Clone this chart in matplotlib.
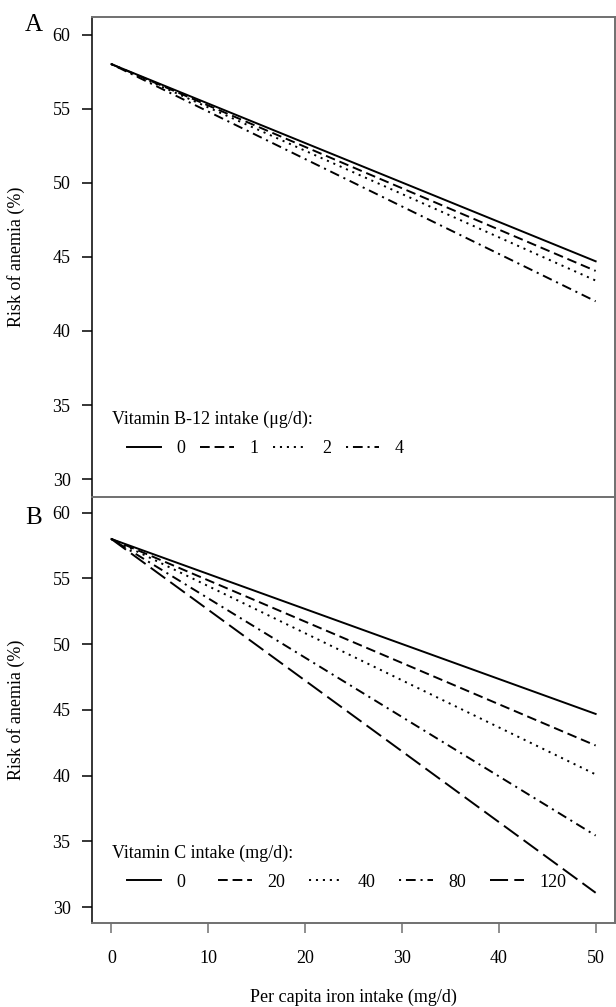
import matplotlib.pyplot as plt

plt.rcParams['font.family'] = ['Liberation Serif', 'DejaVu Serif']
plt.rcParams['lines.scale_dashes'] = False

# per capita iron intake (mg/d)
iron_intake = [0, 50]

# panel A: vitamin B-12 intake (ug/d)
b12_labels = ['0', '1', '2', '4']
b12_start = [58.0, 58.0, 58.0, 58.0]
b12_end = [44.7, 44.05, 43.4, 42.0]

# panel B: vitamin C intake (mg/d)
vitc_labels = ['0', '20', '40', '80', '120']
vitc_start = [58.0, 58.0, 58.0, 58.0, 58.0]
vitc_end = [44.7, 42.3, 40.1, 35.45, 31.1]

styles = ['-', (0, (7, 3.5)), (0, (1.5, 3.5)), (0, (1.5, 3.5, 7, 3.5)), (0, (13, 4.5))]
gray = '#707070'
fs = 13


def style_axes(ax):
    ax.set_xlim(-2, 52)
    ax.set_ylim(28.8, 61.2)
    ax.set_yticks([30, 35, 40, 45, 50, 55, 60])
    ax.set_xticks([0, 10, 20, 30, 40, 50])
    for s in ['top', 'right', 'bottom']:
        ax.spines[s].set_color(gray)
        ax.spines[s].set_linewidth(1.4)
    ax.spines['left'].set_color('black')
    ax.spines['left'].set_linewidth(1.1)
    ax.tick_params(axis='y', length=7.5, width=1.1, pad=8, labelsize=fs)
    ax.tick_params(axis='x', length=7.5, width=1.1, color=gray, pad=12, labelsize=fs)
    ax.set_ylabel('Risk of anemia (%)', fontsize=fs)
    ax.yaxis.set_label_coords(-0.128, 0.5)


def add_key(ax, lines, labels, title, y_title, y_keys, step):
    ax.text(0.0382, y_title, title, transform=ax.transAxes, ha='left', va='center', fontsize=fs)
    for i, (ln, lab) in enumerate(zip(lines, labels)):
        leg = ax.legend([ln], [lab], loc='center left', bbox_to_anchor=(0.0668 + i * step, y_keys),
                        frameon=False, borderpad=0, borderaxespad=0, handlelength=1.88,
                        handletextpad=0.85, fontsize=fs)
        ax.add_artist(leg)
    # every key is already an added artist, avoid drawing the last one twice
    ax.legend_ = None


fig = plt.figure(figsize=(6.16, 10.07), dpi=100)
ax_a = fig.add_axes([0.1494, 0.5065, 0.849, 0.4769])
ax_b = fig.add_axes([0.1494, 0.0834, 0.849, 0.4231])

lines_a = []
for i, lab in enumerate(b12_labels):
    ln, = ax_a.plot(iron_intake, [b12_start[i], b12_end[i]], color='black', lw=1.4, linestyle=styles[i])
    lines_a.append(ln)

lines_b = []
for i, lab in enumerate(vitc_labels):
    ln, = ax_b.plot(iron_intake, [vitc_start[i], vitc_end[i]], color='black', lw=1.4, linestyle=styles[i])
    lines_b.append(ln)

style_axes(ax_a)
style_axes(ax_b)
ax_a.spines['bottom'].set_visible(False)
ax_a.tick_params(axis='x', bottom=False, labelbottom=False)

add_key(ax_a, lines_a, b12_labels, 'Vitamin B-12 intake (\u03bcg/d):', 0.1624, 0.0999, 73 / 524)
add_key(ax_b, lines_b, vitc_labels, 'Vitamin C intake (mg/d):', 0.164, 0.096, 91 / 524)

ax_b.set_xlabel('Per capita iron intake (mg/d)', fontsize=fs, va='center')
ax_b.xaxis.set_label_coords(0.5, -0.174)

fig.text(34 / 616, 1 - 25 / 1007, 'A', fontsize=18, ha='center', va='center')
fig.text(34 / 616, 1 - 518 / 1007, 'B', fontsize=18, ha='center', va='center')

fig.savefig('out.png', dpi=100)
